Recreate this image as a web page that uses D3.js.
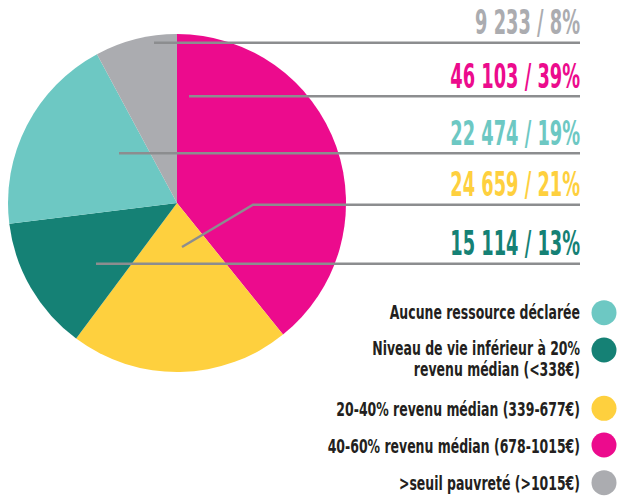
<!DOCTYPE html>
<html><head><meta charset="utf-8">
<script src="https://cdn.jsdelivr.net/npm/d3@7"></script>
<style>
html,body{margin:0;padding:0;background:#fff;}
svg text{font-family:"DejaVu Sans Condensed","Liberation Sans Narrow","Roboto",sans-serif;font-weight:bold;}
</style></head>
<body>
<svg id="chart" width="620" height="498"></svg>
<script>
// ---- data ----
const categories = ["40-60% revenu médian (678-1015€)", "20-40% revenu médian (339-677€)", "Niveau de vie inférieur à 20% revenu médian (<338€)", "Aucune ressource déclarée", ">seuil pauvreté (>1015€)"];
const keys = ["p4060", "p2040", "p20", "none", "above"];
const values = [46103, 24659, 15114, 22474, 9233];
const percents = [39, 21, 13, 19, 8];
const colors = ["#EC0B8D", "#FED03E", "#158175", "#6DC8C3", "#ABACB0"];
// label order top→bottom
const labelOrder = ["above", "p4060", "none", "p2040", "p20"];
// legend order and lines
const legendOrder = ["none", "p20", "p2040", "p4060", "above"];
const legendLines = {
  none: ["Aucune ressource déclarée"],
  p20: ["Niveau de vie inférieur à 20%", "revenu médian (<338€)"],
  p2040: ["20-40% revenu médian (339-677€)"],
  p4060: ["40-60% revenu médian (678-1015€)"],
  above: [">seuil pauvreté (>1015€)"]
};

// ---- layout ----
const cx = 177, cy = 203, R = 169;
const labelRight = 580;
const leader = {
  above: {y: 42.7, sx: -23},
  p4060: {y: 96.3, sx: 12},
  none: {y: 153.3, sx: -58},
  p2040: {y: 204.7, sx: 5, sy: 44, ex: 76},
  p20: {y: 263.7, sx: -81}
};
const legendPos = {
  none: {cy: 312.7, base: 319},
  p20: {cy: 350, base: 355},
  p2040: {cy: 408.3, base: 416},
  p4060: {cy: 445, base: 453},
  above: {cy: 482.7, base: 490}
};

const svg = d3.select("#chart");
const fmt = v => d3.format(",")(v).replace(/,/g, " ");
const data = keys.map((k, i) => ({key: k, value: values[i], pct: percents[i], color: colors[i], label: categories[i]}));
const byKey = Object.fromEntries(data.map(d => [d.key, d]));

const pie = d3.pie().sort(null).value(d => d.value).startAngle(0).endAngle(2 * Math.PI);
const arc = d3.arc().innerRadius(0).outerRadius(R);

const g = svg.append("g").attr("transform", `translate(${cx},${cy})`);
g.selectAll("path").data(pie(data)).join("path")
  .attr("d", arc).attr("fill", d => d.data.color);

// leader lines
const lines = svg.append("g").attr("stroke", "#8C8D8F").attr("stroke-width", 2.4).attr("fill", "none");
labelOrder.forEach(k => {
  const L = leader[k];
  let pts;
  if (L.ex !== undefined) {
    pts = [[cx + L.sx, cy + L.sy], [cx + L.ex, L.y], [labelRight, L.y]];
  } else {
    pts = [[cx + L.sx, L.y], [labelRight, L.y]];
  }
  lines.append("path").attr("d", d3.line()(pts));
});

// value labels
const sxBig = 0.6;
labelOrder.forEach(k => {
  const d = byKey[k], L = leader[k];
  svg.append("text")
    .attr("transform", `translate(${labelRight},${L.y - 8.5}) scale(${sxBig},1)`)
    .attr("text-anchor", "end")
    .attr("font-size", 33)
    .attr("fill", d.color)
    .text(`${fmt(d.value)} / ${d.pct}%`);
});

// legend
const sxLeg = 0.73;
legendOrder.forEach(k => {
  const d = byKey[k], P = legendPos[k];
  svg.append("circle").attr("cx", 604).attr("cy", P.cy).attr("r", 12.5).attr("fill", d.color);
  legendLines[k].forEach((t, i) => {
    svg.append("text")
      .attr("transform", `translate(${labelRight},${P.base + i * 20.5}) scale(${sxLeg},1)`)
      .attr("text-anchor", "end")
      .attr("font-size", 19)
      .attr("fill", "#231F20")
      .text(t);
  });
});
</script>
</body></html>
